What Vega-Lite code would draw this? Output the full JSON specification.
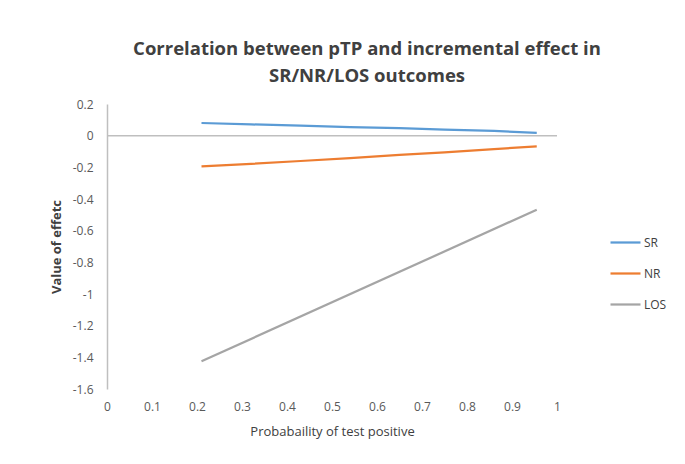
{
  "$schema": "https://vega.github.io/schema/vega-lite/v6.json",
  "autosize": "none",
  "width": 450,
  "height": 285,
  "padding": {"left": 107, "top": 104, "right": 128, "bottom": 75},
  "background": "white",
  "config": {"view": {"stroke": null}, "font": "Open Sans", "axis": {"labelOverlap": false}},
  "title": {
    "text": ["Correlation between pTP and incremental effect in", "SR/NR/LOS outcomes"],
    "font": "Open Sans",
    "fontSize": 18.5,
    "fontWeight": "bold",
    "color": "#404040",
    "anchor": "middle",
    "dx": 35,
    "offset": 13,
    "lineHeight": 27
  },
  "datasets": {
    "lines": [
      {"series": "SR", "p": 0.21, "value": 0.08},
      {"series": "SR", "p": 0.32, "value": 0.071},
      {"series": "SR", "p": 0.43, "value": 0.064},
      {"series": "SR", "p": 0.54, "value": 0.054},
      {"series": "SR", "p": 0.65, "value": 0.048},
      {"series": "SR", "p": 0.75, "value": 0.038},
      {"series": "SR", "p": 0.86, "value": 0.03},
      {"series": "SR", "p": 0.955, "value": 0.018},
      {"series": "NR", "p": 0.21, "value": -0.194},
      {"series": "NR", "p": 0.32, "value": -0.178},
      {"series": "NR", "p": 0.43, "value": -0.16},
      {"series": "NR", "p": 0.54, "value": -0.142},
      {"series": "NR", "p": 0.65, "value": -0.122},
      {"series": "NR", "p": 0.75, "value": -0.105},
      {"series": "NR", "p": 0.86, "value": -0.085},
      {"series": "NR", "p": 0.955, "value": -0.068},
      {"series": "LOS", "p": 0.21, "value": -1.425},
      {"series": "LOS", "p": 0.955, "value": -0.468}
    ],
    "zero": [{"p": 0, "p2": 1, "value": 0}]
  },
  "encoding": {
    "x": {
      "field": "p",
      "type": "quantitative",
      "scale": {"domain": [0, 1], "nice": false},
      "axis": {
        "title": "Probabaility of test positive",
        "titleFont": "Open Sans",
        "titleFontSize": 13,
        "titleFontWeight": "normal",
        "titleColor": "#404040",
        "titlePadding": 13,
        "values": [0, 0.1, 0.2, 0.3, 0.4, 0.5, 0.6, 0.7, 0.8, 0.9, 1],
        "labelExpr": "format(datum.value, '~g')",
        "labelOverlap": false,
        "domain": false,
        "ticks": false,
        "grid": false,
        "labelFontSize": 12,
        "labelColor": "#595959",
        "labelPadding": 12,
        "labelFlush": false
      }
    },
    "y": {
      "field": "value",
      "type": "quantitative",
      "scale": {"domain": [-1.6, 0.2], "nice": false},
      "axis": {
        "title": "Value of effetc",
        "titleFont": "Open Sans",
        "titleFontSize": 13,
        "titleFontWeight": "bold",
        "titleColor": "#404040",
        "titlePadding": 9,
        "values": [-1.6, -1.4, -1.2, -1, -0.8, -0.6, -0.4, -0.2, 0, 0.2],
        "labelExpr": "replace(format(datum.value, '~g'), '−', '-')",
        "labelOverlap": false,
        "domainColor": "#BFBFBF",
        "domainWidth": 1.5,
        "ticks": false,
        "grid": false,
        "labelFontSize": 12,
        "labelColor": "#595959",
        "labelPadding": 14
      }
    }
  },
  "layer": [
    {
      "data": {"name": "zero"},
      "mark": {"type": "rule", "color": "#BFBFBF", "strokeWidth": 1.5},
      "encoding": {
        "x2": {"field": "p2"}
      }
    },
    {
      "data": {"name": "lines"},
      "mark": {"type": "line", "strokeWidth": 2.25},
      "encoding": {
        "color": {
          "field": "series",
          "type": "nominal",
          "scale": {"domain": ["SR", "NR", "LOS"], "range": ["#5B9BD5", "#ED7D31", "#A5A5A5"]},
          "legend": {
            "title": null,
            "orient": "none",
            "legendX": 502,
            "legendY": 122,
            "symbolType": "stroke",
            "symbolSize": 900,
            "symbolStrokeWidth": 2.25,
            "labelFontSize": 12,
            "labelColor": "#404040",
            "labelOffset": 2,
            "rowPadding": 8
          }
        }
      }
    }
  ]
}
